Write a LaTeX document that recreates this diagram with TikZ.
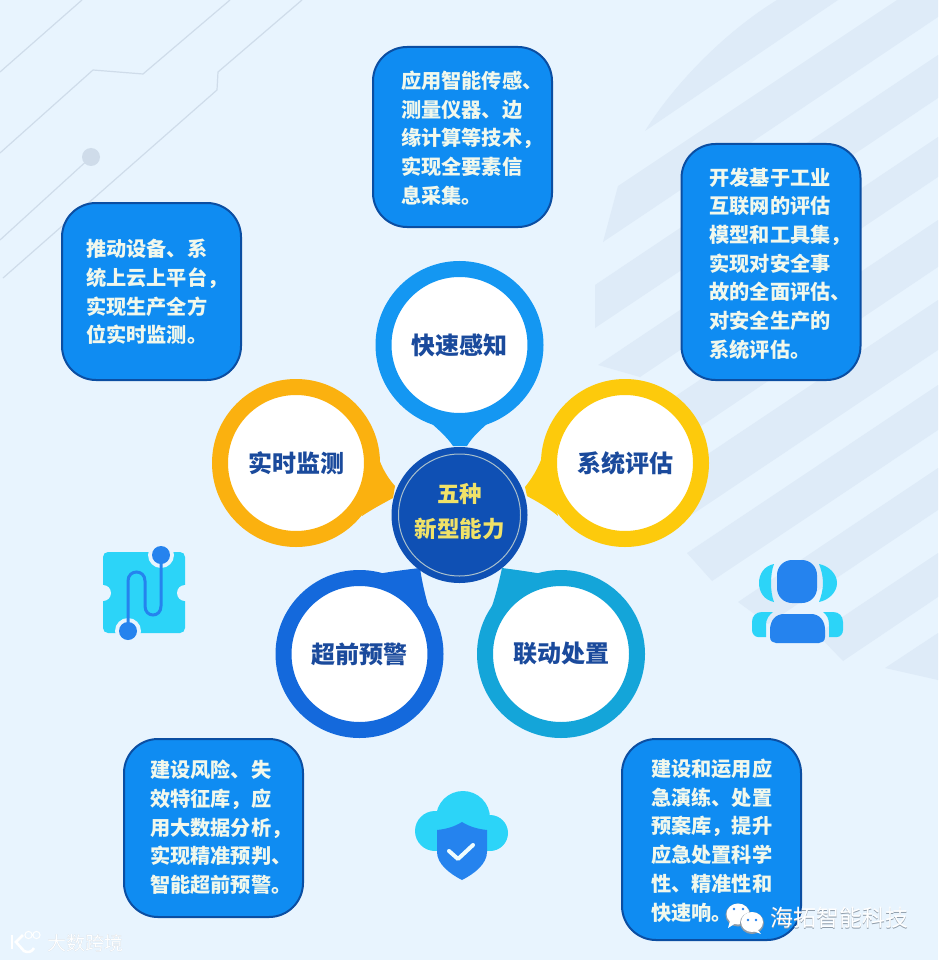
\documentclass[tikz,border=0pt]{standalone}
\usepackage{fontspec}
\setmainfont{Noto Sans CJK SC}
\definecolor{bgc}{HTML}{E8F4FE}
\definecolor{band}{HTML}{DEEBF8}
\definecolor{wire}{HTML}{CFDCEA}
\definecolor{boxfill}{HTML}{0F8CF2}
\definecolor{boxline}{HTML}{0B4EA2}
\definecolor{boxtext}{HTML}{F1F8EC}
\definecolor{ringA}{HTML}{1497F2}
\definecolor{ringB}{HTML}{FBB10F}
\definecolor{ringC}{HTML}{FDCA0C}
\definecolor{ringD}{HTML}{1469DC}
\definecolor{ringE}{HTML}{14A5D9}
\definecolor{navy}{HTML}{1A4A9C}
\definecolor{hub}{HTML}{0F50B4}
\definecolor{hubline}{HTML}{A9C0CC}
\definecolor{gold}{HTML}{F0E268}
\definecolor{icy}{HTML}{2CD4F8}
\definecolor{icb}{HTML}{2583EE}
\definecolor{wmshadow}{HTML}{8E9BA8}
\definecolor{wmsoft}{HTML}{BAC5D0}
\newcommand{\infolines}[3]{\vbox{\kern#3\hbox{\makebox[179pt][l]{\hspace*{#1}\begin{tabular}[c]{@{}l@{}}#2\end{tabular}}}}}
\tikzset{
  infobox/.style={draw=boxline,line width=2pt,fill=boxfill,rounded corners=34pt,minimum width=179pt,inner sep=0pt,
    text=boxtext,font=\fontsize{20.2}{28.7}\selectfont\bfseries},
  pin/.style={circle,draw=#1,line width=16pt,fill=white,minimum size=152pt,inner sep=0pt,text=navy,
    font=\fontsize{24}{28}\selectfont\bfseries},
  hubnode/.style={circle,fill=hub,minimum size=136pt,inner sep=0pt,text=gold,
    font=\fontsize{22.5}{35}\selectfont\bfseries},
  wireline/.style={draw=wire,line width=1.2pt,line join=round},
  wmtext/.style={inner sep=0pt,anchor=west,text=white},
}
\begin{document}
\begin{tikzpicture}[x=1pt,y=-1pt]
\useasboundingbox (0,0) rectangle (938,960);
\fill[bgc] (0,0) rectangle (938,960);
% background bands
\begin{scope}[band]
\fill (645,131) .. controls (670,90) and (720,35) .. (777,0) -- (838,0) -- cycle;
\fill (618,186) -- (897,0) -- (938,0) -- (938,17) -- (603,242) -- cycle;
\fill (595,285) -- (938,55) -- (938,98) -- (595,328) -- cycle;
\fill (598,365) -- (938,137) -- (938,177) -- (640,377) -- cycle;
\fill (640,420) -- (938,220) -- (938,267) -- (640,467) -- cycle;
\fill (690,466) -- (938,300) -- (938,350) -- (690,516) -- cycle;
\fill (687,553) -- (938,385) -- (938,430) -- (712,581) -- cycle;
\fill (738,602) -- (938,468) -- (938,510) -- (768,624) -- cycle;
\fill (817,634) -- (938,553) -- (938,597) -- (843,661) -- cycle;
\fill (885,668) -- (938,633) -- (938,680) -- cycle;
\end{scope}
% circuit lines
\draw[wireline] (0,72) -- (82,0);
\draw[wireline] (0,153) -- (93,70) -- (143,74) -- (230,0);
\draw[wireline] (0,240) -- (91,157);
\draw[wireline] (3,278) -- (217,90) -- (218,72) -- (302,0);
\fill[wire] (91,157) circle (9pt);
% info boxes
\node[infobox,minimum height=180pt] (b1) at (462.5,137) {\infolines{28pt}{应用智能传感、\\测量仪器、边\\缘计算等技术，\\实现全要素信\\息采集。}{6pt}};
\node[infobox,minimum height=236pt] (b2) at (771,262) {\infolines{28pt}{开发基于工业\\互联网的评估\\模型和工具集，\\实现对安全事\\故的全面评估、\\对安全生产的\\系统评估。}{7pt}};
\node[infobox,minimum height=177pt] (b3) at (151.5,291.5) {\infolines{24pt}{推动设备、系\\统上云上平台，\\实现生产全方\\位实时监测。}{5pt}};
\node[infobox,minimum height=178pt] (b4) at (213.5,828) {\infolines{26pt}{建设风险、失\\效特征库，应\\用大数据分析，\\实现精准预判、\\智能超前预警。}{3pt}};
\node[infobox,minimum height=201pt] (b5) at (711.5,839.5) {\infolines{29pt}{建设和运用应\\急演练、处置\\预案库，提升\\应急处置科学\\性、精准性和\\快速响。}{6pt}};
% pointers of the pins
\fill[ringA] (425,418) .. controls (437,428) and (447,437) .. (453,446) -- (467,446) .. controls (472,437) and (482,428) .. (494,418) -- cycle;
\fill[ringB] (376,448) .. controls (379,463) and (386,476) .. (395,486) -- (393,498) .. controls (384,503) and (374,508) .. (362,516) -- cycle;
\fill[ringC] (545,448) .. controls (541,463) and (534,476) .. (525,487) -- (527,496) .. controls (536,501) and (546,506) .. (558,516) -- cycle;
\fill[ringD] (372,575) .. controls (388,572) and (403,570) .. (420,568) .. controls (422,582) and (425,595) .. (430,612) -- cycle;
\fill[ringE] (548,575) .. controls (532,572) and (517,570) .. (502,568) .. controls (499,582) and (496,595) .. (490,612) -- cycle;
% pins
\node[pin=ringA] (p1) at (459.5,345) {快速感知};
\node[pin=ringB] (p2) at (296,463) {实时监测};
\node[pin=ringC] (p3) at (625,463) {系统评估};
\node[pin=ringD] (p4) at (359.5,654) {超前预警};
\node[pin=ringE] (p5) at (561,654) {联动处置};
% hub
\node[hubnode] (hubc) at (459.5,515) {\vbox{\hbox{\begin{tabular}{@{}c@{}}五种\\新型能力\end{tabular}}\kern4pt}};
\draw[hubline,line width=1pt] (hubc.center) circle (61pt);
% puzzle icon
\fill[icy,rounded corners=5pt] (103,552) rectangle (185,633);
\fill[bgc] (103,593) circle (8pt) (185,593) circle (8pt) (161,555) circle (13pt) (128,631) circle (13pt);
\draw[icb,line width=3pt] (128,631) -- (128,581) .. controls (128,569) and (145,569) .. (145,581) -- (145,606) .. controls (145,618) and (161,618) .. (161,606) -- (161,555);
\fill[icb] (161,555) circle (9pt) (128,631) circle (9pt);
% person icon
\fill[icy] (774,564) .. controls (764,566) and (759,574) .. (759,583) .. controls (759,592) and (764,600) .. (774,602) .. controls (772,597) and (771,590) .. (771,583) .. controls (771,576) and (772,569) .. (774,564) -- cycle;
\fill[icy] (819,564) .. controls (829,566) and (837,574) .. (837,583) .. controls (837,592) and (829,600) .. (819,602) .. controls (821,597) and (823,590) .. (823,583) .. controls (823,576) and (821,569) .. (819,564) -- cycle;
\fill[icy] (773,612) -- (762,612) .. controls (756,612) and (752,616) .. (752,622) -- (752,630) .. controls (752,634) and (755,637) .. (758,637) -- (766,637) -- (766,625) .. controls (766,619) and (769,615) .. (773,612) -- cycle;
\fill[icy] (823,612) -- (833,612) .. controls (839,612) and (843,616) .. (843,622) -- (843,630) .. controls (843,634) and (840,637) .. (837,637) -- (829,637) -- (829,625) .. controls (829,619) and (827,615) .. (823,612) -- cycle;
\fill[icb,rounded corners=15pt] (777,560) rectangle (817,603);
\fill[icb] (770,630) .. controls (770,620) and (776,614) .. (784,614) -- (811,614) .. controls (819,614) and (825,620) .. (825,630) -- (825,637) .. controls (825,641) and (822,643) .. (819,643) -- (776,643) .. controls (773,643) and (770,641) .. (770,637) -- cycle;
% cloud and shield icon
\fill[icy] (463,818) circle (27pt) (435,831) circle (20pt) (490,833) circle (18pt);
\fill[icy] (435,835) rectangle (490,851);
\fill[icb] (462,822) .. controls (454,827) and (446,829) .. (437,830) -- (437,852) .. controls (437,864) and (450,874) .. (462,880) .. controls (474,874) and (487,864) .. (487,852) -- (487,830) .. controls (478,829) and (470,827) .. (462,822) -- cycle;
\draw[white!92!icy,line width=4pt,line cap=round,line join=round] (449,851) -- (458,859) -- (473,845);
% watermark left
\begin{scope}[white,line width=2pt]
\draw[wmsoft,line width=2.8pt] (12,935) -- (12,949);
\draw (12,935) -- (12,949);
\draw[line width=2.6pt] (23,935) -- (16,942) -- (24,951) .. controls (28,953) and (32,952) .. (34,948);
\draw[line width=1pt] (28.5,935) circle (3.6pt) (36.5,935) circle (3.6pt);
\end{scope}
\node[wmtext,text=wmsoft,font=\fontsize{19}{20}\selectfont] (wmA2) at (47.5,943.5) {大数跨境};
\node[wmtext,font=\fontsize{19}{20}\selectfont] (wmA) at (47,943) {大数跨境};
% watermark right
\fill[wmshadow] (738,915) ellipse (12.5pt and 11.5pt);
\fill[white] (738,914) ellipse (11.5pt and 10.5pt);
\fill[white] (730,921) -- (728,928) -- (736,923) -- cycle;
\fill[wmshadow] (752,923) ellipse (12pt and 11pt);
\fill[white] (752,922) ellipse (11pt and 10pt);
\fill[white] (757,929) -- (761,934) -- (751,930) -- cycle;
\fill[icb] (734,909) circle (1.4pt) (743,909) circle (1.4pt) (748,920) circle (1.3pt) (756,920) circle (1.3pt);
\node[wmtext,text=wmshadow,font=\fontsize{23}{24}\selectfont] (wmB2) at (770.7,918.7) {海拓智能科技};
\node[wmtext,font=\fontsize{23}{24}\selectfont] (wmB) at (770,918) {海拓智能科技};
\end{tikzpicture}
\end{document}
